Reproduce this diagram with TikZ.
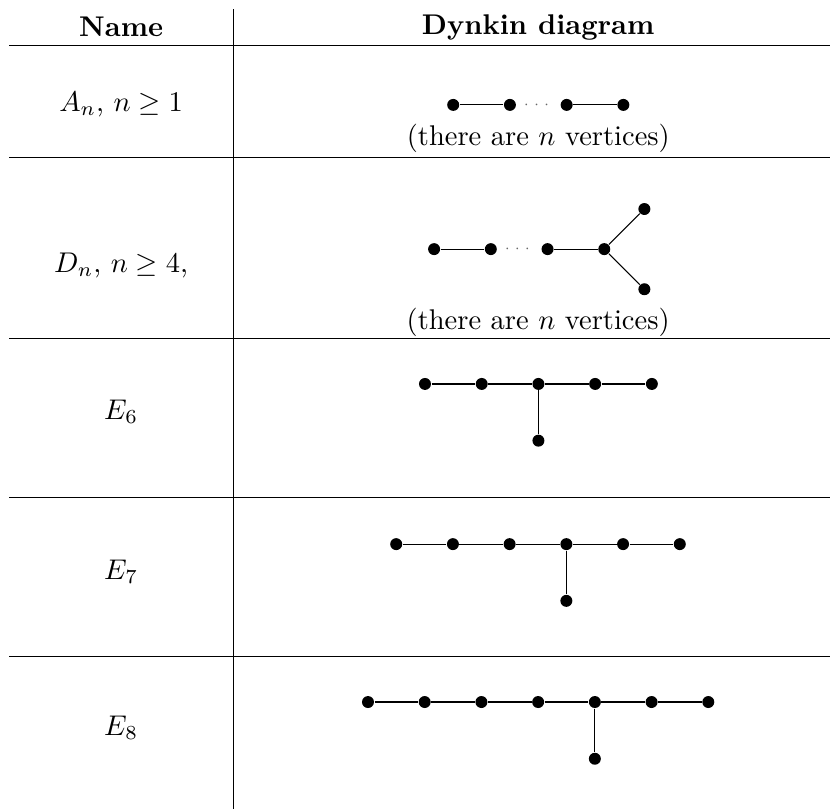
\documentclass[tikz,border=0pt]{standalone}
\usepackage{amsmath}
\usepackage{tikz}
\usetikzlibrary{positioning}

\begin{document}
\begin{tikzpicture}[x=1pt, y=1pt, node distance=19.9pt,
    vertex/.style={circle, fill, inner sep=0pt, minimum size=4.2pt},
    gap/.style={font=\tiny, inner sep=0pt, text=black!60}]

    \useasboundingbox (0,0) rectangle (291.2,-283.9);

    % table rules
    \draw (82.0,-3.2) -- (82.0,-283.9);
    \foreach \y in {-16.1,-55.4,-118.9,-174.4,-230.2}
        \draw (3.2,\y) -- (291.2,\y);

    % header
    \node (hname) at (42.5,-9.5)  {\textbf{Name}};
    \node (hdiag) at (188.8,-9.5) {\textbf{Dynkin diagram}};

    % A_n
    \node (aname)           at (42.5,-36.5)                     {$A_n$, $n \geq 1$};
    \node[vertex] (a1)      at (159.0,-36.8)                    {};
    \node[vertex] (a2)      [right of=a1]                       {};
    \node[gap]    (adots)   [right of=a2, node distance=9.95pt] {$\cdots$};
    \node[vertex] (a3)      [right of=adots, node distance=9.95pt] {};
    \node[vertex] (a4)      [right of=a3]                       {};
    \node         (atext)   [below of=adots, node distance=11.6pt] {(there are $n$ vertices)};

    \path   (a1) edge (a2)
            (a3) edge (a4);

    % D_n
    \node (dname)           at (42.5,-93)                       {$D_n$, $n \geq 4$,};
    \node[vertex] (d1)      at (152.3,-87.4)                    {};
    \node[vertex] (d2)      [right of=d1]                       {};
    \node[gap]    (ddots)   [right of=d2, node distance=9.95pt] {$\cdots$};
    \node[vertex] (d3)      [right of=ddots, node distance=9.95pt] {};
    \node[vertex] (d4)      [right of=d3]                       {};
    \node[vertex] (d5)      [above right of=d4]                 {};
    \node[vertex] (d6)      [below right of=d4]                 {};
    \node         (dtext)   at (188.8,-113)                     {(there are $n$ vertices)};

    \path   (d1) edge (d2)
            (d3) edge (d4)
            (d4) edge (d5)
                 edge (d6);

    % E_6
    \node (ename)           at (42.5,-144.4)    {$E_6$};
    \node[vertex] (e1)      at (149.1,-134.7)   {};
    \node[vertex] (e2)      [right of=e1]       {};
    \node[vertex] (e3)      [right of=e2]       {};
    \node[vertex] (e4)      [right of=e3]       {};
    \node[vertex] (e5)      [right of=e4]       {};
    \node[vertex] (e6)      [below of=e3]       {};

    \path   (e1) edge (e2)
            (e2) edge (e3)
            (e3) edge (e4)
                 edge (e6)
            (e4) edge (e5);

    % E_7
    \node (fname)           at (42.5,-200.5)    {$E_7$};
    \node[vertex] (f1)      at (139.0,-190.9)   {};
    \node[vertex] (f2)      [right of=f1]       {};
    \node[vertex] (f3)      [right of=f2]       {};
    \node[vertex] (f4)      [right of=f3]       {};
    \node[vertex] (f5)      [right of=f4]       {};
    \node[vertex] (f6)      [right of=f5]       {};
    \node[vertex] (f7)      [below of=f4]       {};

    \path   (f1) edge (f2)
            (f2) edge (f3)
            (f3) edge (f4)
            (f4) edge (f5)
                 edge (f7)
            (f5) edge (f6);

    % E_8
    \node (gname)           at (42.5,-255.4)    {$E_8$};
    \node[vertex] (g1)      at (129.1,-246.3)   {};
    \node[vertex] (g2)      [right of=g1]       {};
    \node[vertex] (g3)      [right of=g2]       {};
    \node[vertex] (g4)      [right of=g3]       {};
    \node[vertex] (g5)      [right of=g4]       {};
    \node[vertex] (g6)      [right of=g5]       {};
    \node[vertex] (g7)      [right of=g6]       {};
    \node[vertex] (g8)      [below of=g5]       {};

    \path   (g1) edge (g2)
            (g2) edge (g3)
            (g3) edge (g4)
            (g4) edge (g5)
            (g5) edge (g6)
                 edge (g8)
            (g6) edge (g7);

\end{tikzpicture}
\end{document}
